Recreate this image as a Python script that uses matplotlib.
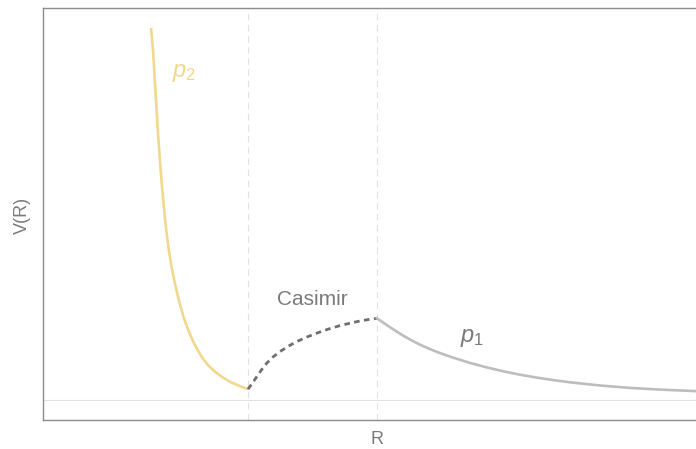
import numpy as np
import matplotlib
matplotlib.use('Agg')
import matplotlib.pyplot as plt

plt.rcParams['font.family'] = 'Liberation Sans'
plt.rcParams['mathtext.fontset'] = 'custom'
plt.rcParams['mathtext.rm'] = 'Liberation Sans'
plt.rcParams['mathtext.it'] = 'Liberation Sans:italic'

# values (arbitrary units)
r_p2 = [1.644, 1.674, 1.697, 1.720, 1.735, 1.750, 1.769, 1.787, 1.807, 1.830, 1.854, 1.881,
        1.915, 1.956, 2.006, 2.067, 2.139, 2.181, 2.230, 2.286, 2.352, 2.428, 2.511, 2.610,
        2.725, 2.854, 2.991, 3.12]
v_p2 = [9.30, 8.75, 8.125, 7.50, 7.075, 6.675, 6.25, 5.825, 5.425, 5.00, 4.575, 4.175,
        3.75, 3.325, 2.925, 2.50, 2.075, 1.875, 1.675, 1.4625, 1.25, 1.05, 0.875, 0.7175,
        0.575, 0.45, 0.35, 0.27]

r_cas = [3.12, 3.189, 3.253, 3.326, 3.405, 3.501, 3.607, 3.729, 3.862, 4.011, 4.166,
         4.338, 4.521, 4.673, 4.825, 4.947, 5.084]
v_cas = [0.27, 0.425, 0.58, 0.755, 0.92, 1.075, 1.21, 1.34, 1.46, 1.57, 1.67,
         1.77, 1.86, 1.92, 1.975, 2.01, 2.04]

r_p1 = [5.084, 5.231, 5.358, 5.484, 5.611, 5.738, 5.865, 5.992, 6.119, 6.245, 6.499,
        6.753, 7.006, 7.260, 7.514, 7.767, 8.021, 8.478, 8.935, 9.391, 10.0]
v_p1 = [2.0425, 1.875, 1.7375, 1.6075, 1.49, 1.385, 1.29, 1.205, 1.1275, 1.0575, 0.9275,
        0.815, 0.7175, 0.6325, 0.56, 0.4975, 0.4425, 0.3625, 0.3025, 0.26, 0.2175]

r_marks = [3.12, 5.084]

grey_txt = '#7a7a7a'

fig = plt.figure(figsize=(6.96, 4.49), dpi=100)
ax = fig.add_axes([0.0618, 0.0646, 1.0057 - 0.0618, 0.9822 - 0.0646])

for r in r_marks:
    ax.axvline(r, color='#e2e2e2', lw=0.8, ls=(0, (6, 4)), zorder=1)
ax.axhline(0, color='#e2e2e2', lw=0.8, zorder=1)

ax.plot(r_p2, v_p2, color='#f2d88e', lw=1.9, solid_capstyle='butt', zorder=3)
ax.plot(r_cas, v_cas, color='#6e6e6e', lw=2.0, ls=(0, (2.0, 1.6)), zorder=3)
ax.plot(r_p1, v_p1, color='#bdbdbd', lw=1.9, zorder=3)

ax.text(2.146, 8.18, r'$p_2$', color='#f2d88e', fontsize=17, ha='center', va='center')
ax.text(4.094, 2.5, 'Casimir', color=grey_txt, fontsize=15, ha='center', va='center')
ax.text(6.53, 1.55, r'$p_1$', color=grey_txt, fontsize=17, ha='center', va='center')

ax.set_xlim(0, 10)
ax.set_ylim(-0.5, 9.8)
ax.set_xticks([])
ax.set_yticks([])
for s in ax.spines.values():
    s.set_color('#8c8c8c')
    s.set_linewidth(1.0)

fig.text(377 / 696, 1 - 440 / 449, 'R', color=grey_txt, fontsize=13, ha='center', va='center')
fig.text(22 / 696, 1 - 215 / 449, 'V(R)', color=grey_txt, fontsize=13, ha='center', va='center',
         rotation=90)

fig.savefig('out.png', dpi=100)
